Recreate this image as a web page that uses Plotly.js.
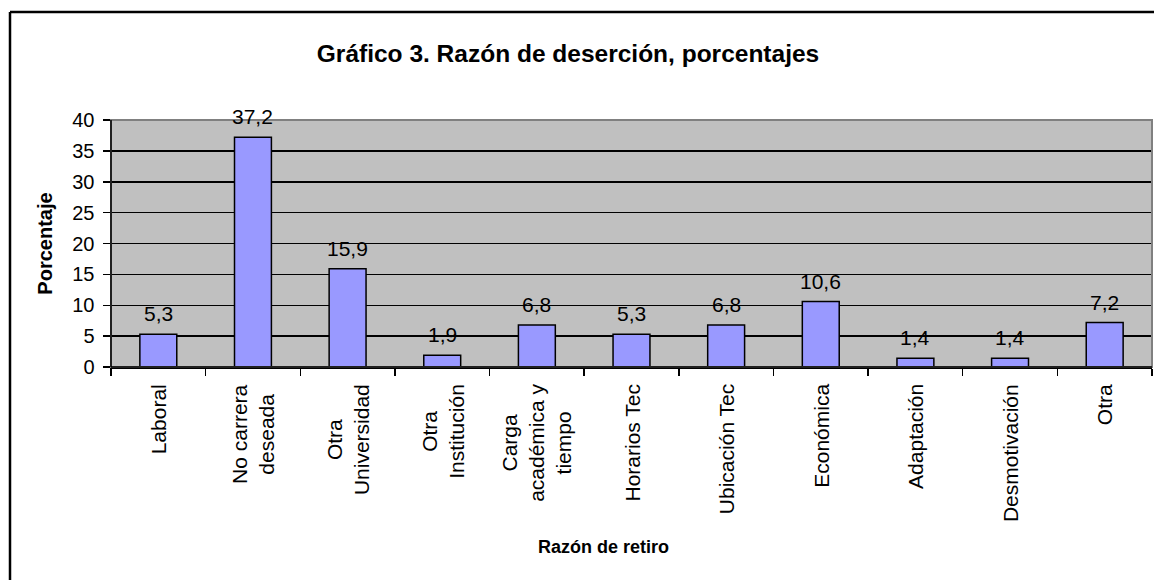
<!DOCTYPE html>
<html>
<head>
<meta charset="utf-8">
<script src="https://cdn.plot.ly/plotly-3.0.1.min.js"></script>
<style>html,body{margin:0;padding:0;background:#fff;}#chart{width:1154px;height:580px;}</style>
</head>
<body>
<div id="chart"></div>
<script>
// Data
const categories = ["Laboral", "No carrera deseada", "Otra Universidad", "Otra Institución",
  "Carga académica y tiempo", "Horarios Tec", "Ubicación Tec", "Económica",
  "Adaptación", "Desmotivación", "Otra"];
const categoryLabels = ["Laboral", "No carrera<br>deseada", "Otra<br>Universidad", "Otra<br>Institución",
  "Carga<br>académica y<br>tiempo", "Horarios Tec", "Ubicación Tec", "Económica",
  "Adaptación", "Desmotivación", "Otra"];
const percentages = [5.3, 37.2, 15.9, 1.9, 6.8, 5.3, 6.8, 10.6, 1.4, 1.4, 7.2];
const yTickValues = [0, 5, 10, 15, 20, 25, 30, 35, 40];

const FONT = "Liberation Sans, Arial, sans-serif";
const W = 1154, H = 580;
const L = 111, R = 2, T = 120, B = 213;
const pw = W - L - R, ph = H - T - B;
const px = v => (v - L) / pw;        // pixel x -> paper
const py = v => (H - B - v) / ph;    // pixel y -> paper

const trace = {
  type: "bar",
  x: categories,
  y: percentages,
  marker: {color: "#9999FF", line: {color: "#000000", width: 1.5}},
  cliponaxis: false,
  hoverinfo: "x+y"
};

// category labels (rotated, centred lines)
const annotations = categories.map((c, i) => ({
  x: c, xref: "x", y: 0, yref: "paper", yshift: -15,
  xanchor: "center", yanchor: "top",
  text: categoryLabels[i], textangle: -90, showarrow: false, align: "center",
  font: {family: FONT, size: 21, color: "#000"}
}));
// value labels
percentages.forEach((v, i) => annotations.push({
  x: categories[i], xref: "x", y: v, yref: "y", yshift: 7,
  xanchor: "center", yanchor: "bottom", showarrow: false,
  text: v.toFixed(1).replace(".", ","),
  font: {family: FONT, size: 21, color: "#000"}
}));
annotations.push({
  x: px(603), xref: "paper", y: py(547), yref: "paper",
  xanchor: "center", yanchor: "middle", showarrow: false,
  text: "<b>Razón de retiro</b>",
  font: {family: FONT, size: 18, color: "#000"}
});

const layout = {
  width: W, height: H,
  margin: {l: L, r: R, t: T, b: B, pad: 0},
  paper_bgcolor: "#ffffff",
  plot_bgcolor: "#C0C0C0",
  showlegend: false,
  bargap: 0.61,
  title: {
    text: "<b>Gráfico 3. Razón de deserción, porcentajes</b>",
    font: {family: FONT, size: 24.5, color: "#000"},
    x: 568 / W, xanchor: "center", xref: "container",
    y: 1 - 53 / H, yanchor: "middle", yref: "container"
  },
  xaxis: {
    type: "category",
    showticklabels: false,
    ticks: "outside", ticklen: 7, tickcolor: "#000", tickwidth: 1.5,
    tickson: "boundaries",
    showline: true, linecolor: "#000", linewidth: 1.5,
    showgrid: false, zeroline: false, fixedrange: true
  },
  yaxis: {
    range: [0, 40],
    tickvals: yTickValues,
    ticks: "outside", ticklen: 7, tickcolor: "#000", tickwidth: 1.5,
    tickfont: {family: FONT, size: 20, color: "#000"},
    ticklabelstandoff: 4,
    showline: true, linecolor: "#000", linewidth: 1.5,
    showgrid: true, gridcolor: "#000", gridwidth: 1.5,
    zeroline: false, fixedrange: true,
    title: {text: "<b>Porcentaje</b>", font: {family: FONT, size: 20, color: "#000"}, standoff: 14}
  },
  annotations: annotations,
  shapes: [
    {type: "rect", xref: "paper", yref: "paper", x0: 0, x1: 1, y0: 0, y1: 1,
     line: {color: "#808080", width: 2}, layer: "above"},
    {type: "line", xref: "paper", yref: "paper", x0: px(10), x1: px(1160), y0: py(12), y1: py(12),
     line: {color: "#000", width: 2.5}},
    {type: "line", xref: "paper", yref: "paper", x0: px(10), x1: px(10), y0: py(12), y1: py(590),
     line: {color: "#000", width: 2.5}},
    {type: "line", xref: "paper", yref: "paper", x0: 0, x1: 0, y0: 0, y1: 1,
     line: {color: "#000", width: 1.5}, layer: "above"},
    {type: "line", xref: "paper", yref: "paper", x0: 0, x1: 1, y0: 0, y1: 0,
     line: {color: "#000", width: 1.5}, layer: "above"}
  ]
};

Plotly.newPlot("chart", [trace], layout, {displayModeBar: false, staticPlot: true});
</script>
</body>
</html>
